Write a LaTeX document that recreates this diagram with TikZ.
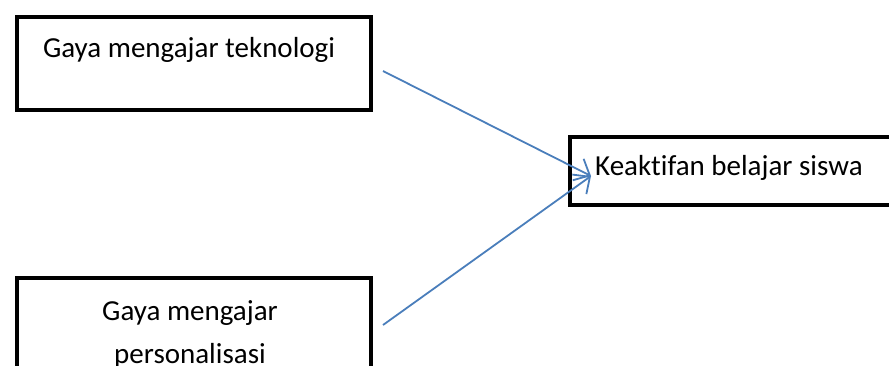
\documentclass[tikz,border=0pt]{standalone}
\usepackage{fontspec}
\setmainfont{Carlito}[Ligatures=NoCommon]
\usetikzlibrary{arrows.meta}
\definecolor{arrowblue}{RGB}{74,126,187}
\begin{document}
\begin{tikzpicture}[x=1pt,y=-1pt,
  box/.style={draw=black, line width=3.6pt, rectangle, inner sep=0pt, anchor=north west},
  lbl/.style={font=\fontsize{29}{43}\selectfont, inner sep=0pt},
  link/.style={draw=arrowblue, line width=1.8pt, -{Straight Barb[length=13pt,width=24pt]}}]
  \useasboundingbox (0,0) rectangle (889,365);
  \clip (0,0) rectangle (889,365);

  % boxes
  \node[box, minimum width=354pt, minimum height=93pt] (tek) at (15,15) {};
  \node[box, minimum width=340pt, minimum height=68pt] (keak) at (568,135) {};
  \node[box, minimum width=354pt, minimum height=120pt] (pers) at (15,276) {};

  % texts
  \node[lbl, anchor=base] (tektxt) at (189,57) {Gaya mengajar teknologi};
  \node[lbl, anchor=base west] (keaktxt) at (595,175) {Keaktifan belajar siswa};
  \node[lbl, anchor=base, align=center] (perstxt) at (190,363) {Gaya mengajar\\personalisasi};

  % connectors
  \coordinate (s1) at (383,71);
  \coordinate (s2) at (383,325);
  \coordinate (tip) at (591,176);
  \draw[link] (s1) -- (tip);
  \draw[link] (s2) -- (tip);
\end{tikzpicture}
\end{document}
